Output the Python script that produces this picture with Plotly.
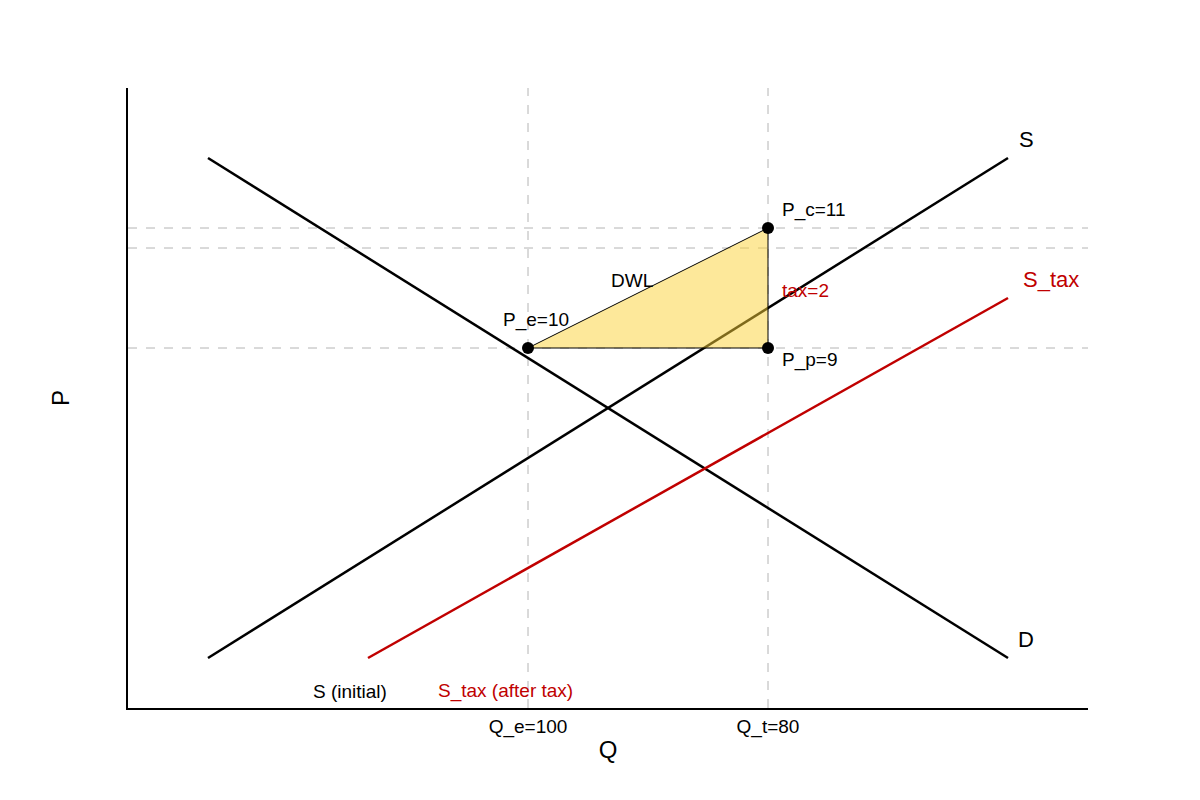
import plotly.graph_objects as go

# data (plot units)
demand_x = [8, 88]; demand_y = [55, 5]
supply_x = [8, 88]; supply_y = [5, 55]
stax_x = [24, 88]; stax_y = [5, 41]
dwl_x = [40, 64, 64, 40]; dwl_y = [36, 48, 36, 36]
pts_x = [40, 64, 64]; pts_y = [36, 48, 36]
vlines = [40, 64]
hlines = [48, 46, 36]
tick_vals = [40, 64]
tick_text = ["Q_e=100", "Q_t=80"]
XR = [0, 96]; YR = [0, 62]

fig = go.Figure()
for v in vlines:
    fig.add_trace(go.Scatter(x=[v, v], y=YR, mode="lines",
                             line=dict(color="#b4b4b4", width=1, dash="dash")))
for h in hlines:
    fig.add_trace(go.Scatter(x=XR, y=[h, h], mode="lines",
                             line=dict(color="#b4b4b4", width=1, dash="dash")))
fig.add_trace(go.Scatter(x=demand_x, y=demand_y, mode="lines", line=dict(color="black", width=2.5)))
fig.add_trace(go.Scatter(x=supply_x, y=supply_y, mode="lines", line=dict(color="black", width=2.5)))
fig.add_trace(go.Scatter(x=stax_x, y=stax_y, mode="lines", line=dict(color="#c00000", width=2.5)))
fig.add_trace(go.Scatter(x=dwl_x, y=dwl_y, mode="lines", fill="toself",
                         fillcolor="rgba(251,209,53,0.5)", line=dict(color="black", width=1)))
fig.add_trace(go.Scatter(x=pts_x, y=pts_y, mode="markers", marker=dict(color="black", size=12)))

F = "Liberation Sans, Arial"
def ann(x, y, t, color="black", size=19):
    fig.add_annotation(x=x, y=y, text=t, showarrow=False, font=dict(family=F, size=size, color=color))

ann(40.8, 38.8, "P_e=10")
ann(68.6, 49.8, "P_c=11")
ann(68.1, 34.8, "P_p=9")
ann(67.7, 41.8, "tax=2", "#c00000")
ann(50.4, 42.8, "DWL")
ann(89.8, 56.9, "S", size=22)
ann(92.3, 42.9, "S_tax", "#c00000", size=22)
ann(89.8, 6.9, "D", size=22)
ann(22.2, 1.7, "S (initial)")
ann(37.7, 1.7, "S_tax (after tax)", "#c00000")

fig.update_layout(
    width=1200, height=800, showlegend=False,
    plot_bgcolor="white", paper_bgcolor="white",
    margin=dict(l=120, r=120, t=80, b=100),
    font=dict(family=F, size=19, color="black"),
    xaxis=dict(range=XR, showgrid=False, zeroline=False, showline=True, linecolor="black",
               linewidth=1.5, tickvals=tick_vals, ticktext=tick_text, ticks="",
               title=dict(text="Q", font=dict(size=24), standoff=5)),
    yaxis=dict(range=YR, showgrid=False, zeroline=False, showline=True, linecolor="black",
               linewidth=1.5, showticklabels=False, ticks="",
               title=dict(text="P", font=dict(size=24), standoff=50)),
)
fig.write_html("out.html")
